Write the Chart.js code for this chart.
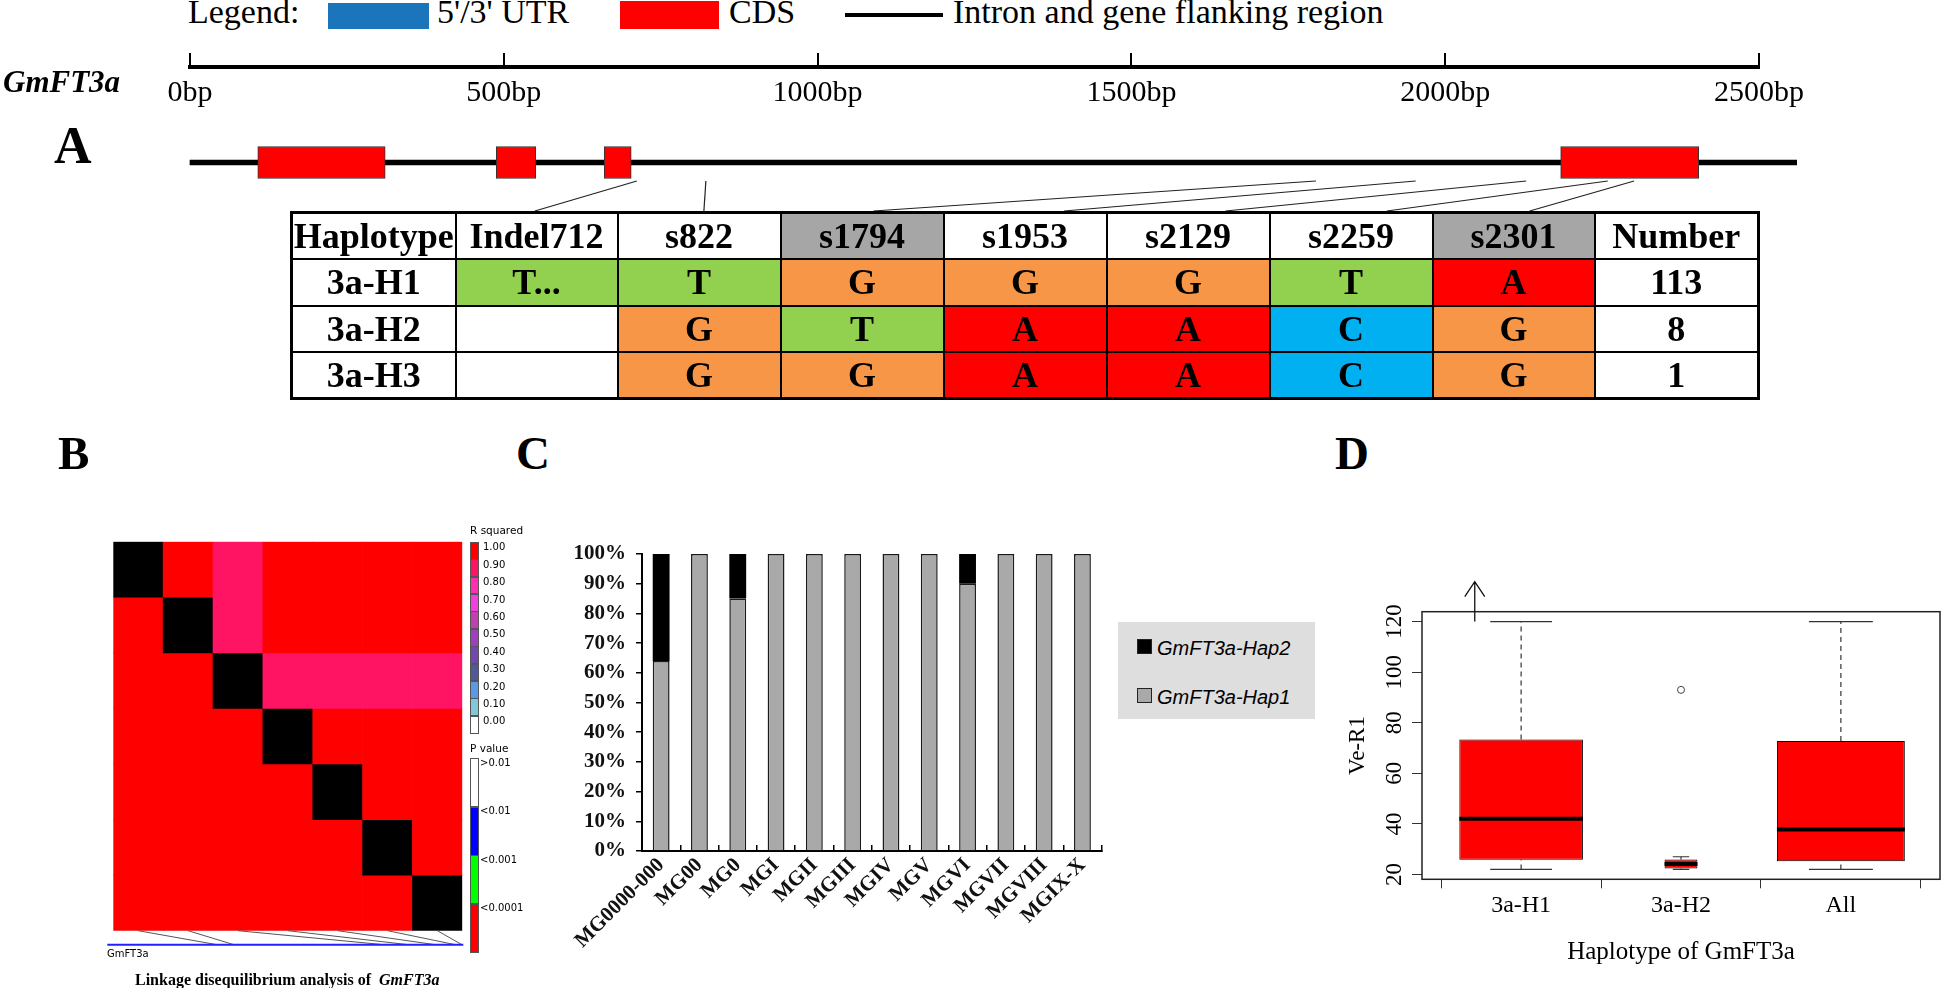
<!DOCTYPE html>
<html>
<head>
<meta charset="utf-8">
<title>GmFT3a haplotypes</title>
<script src="https://cdn.jsdelivr.net/npm/chart.js@4.4.1/dist/chart.umd.min.js"></script>
<style>
  html, body { margin:0; padding:0; background:#fff; }
  #page { position:relative; width:1945px; height:988px; overflow:hidden; background:#fff; color:#000;
          font-family:'Liberation Serif','Times New Roman',serif; }
  .abs { position:absolute; white-space:nowrap; line-height:1; }
  canvas { position:absolute; }
  #hapTable { position:absolute; left:290px; top:211px; width:1467px; border-collapse:collapse; table-layout:fixed;
              font-family:'Liberation Serif',serif; font-weight:bold; font-size:36px; border:3px solid #000; }
  #hapTable td { border:2px solid #000; text-align:center; vertical-align:middle; padding:0; line-height:1;
                 white-space:nowrap; overflow:hidden; }
</style>
</head>
<body>
<div id="page">
  <canvas id="cRuler" width="1945" height="80" style="left:0;top:40px"></canvas>
  <canvas id="cGene" width="1945" height="100" style="left:0;top:120px"></canvas>
  <canvas id="cLD" width="420" height="450" style="left:60px;top:520px"></canvas>
  <canvas id="cMG" width="620" height="440" style="left:500px;top:530px"></canvas>
  <canvas id="cBox" width="625" height="428" style="left:1320px;top:560px"></canvas>
</div>
<script>
// ================= DATA =================
// Panel A: gene structure (bp) and haplotype table
const legendLabels = ["5'/3' UTR", 'CDS', 'Intron and gene flanking region'];
const rulerTicks = [0, 500, 1000, 1500, 2000, 2500];
const geneSpan = [0, 2560];
const exonStart = [108, 488, 660, 2184];
const exonEnd = [311, 551, 703, 2404];
const variantNames = ['Indel712', 's822', 's1794', 's1953', 's2129', 's2259', 's2301'];
const variantPos = [712, 822, 1794, 1953, 2129, 2259, 2301];
const codingVariants = ['s1794', 's2301'];
const haplotypeNames = ['3a-H1', '3a-H2', '3a-H3'];
const allelesH1 = ['T...', 'T', 'G', 'G', 'G', 'T', 'A'];
const allelesH2 = ['', 'G', 'T', 'A', 'A', 'C', 'G'];
const allelesH3 = ['', 'G', 'G', 'A', 'A', 'C', 'G'];
const haplotypeCounts = [113, 8, 1];

// Panel B: LD matrix (upper triangle R squared, lower triangle P value)
const ldR2 = [
  [null, 1.00, 0.88, 1.00, 1.00, 1.00, 1.00],
  [null, null, 0.88, 1.00, 1.00, 1.00, 1.00],
  [null, null, null, 0.88, 0.88, 0.88, 0.88],
  [null, null, null, null, 1.00, 1.00, 1.00],
  [null, null, null, null, null, 1.00, 1.00],
  [null, null, null, null, null, null, 1.00],
  [null, null, null, null, null, null, null]
];
const ldP = [
  [null, null, null, null, null, null, null],
  [0.00005, null, null, null, null, null, null],
  [0.00005, 0.00005, null, null, null, null, null],
  [0.00005, 0.00005, 0.00005, null, null, null, null],
  [0.00005, 0.00005, 0.00005, 0.00005, null, null, null],
  [0.00005, 0.00005, 0.00005, 0.00005, 0.00005, null, null],
  [0.00005, 0.00005, 0.00005, 0.00005, 0.00005, 0.00005, null]
];
const r2LegendLabels = ['1.00', '0.90', '0.80', '0.70', '0.60', '0.50', '0.40', '0.30', '0.20', '0.10', '0.00'];
const pLegendLabels = ['>0.01', '<0.01', '<0.001', '<0.0001'];

// Panel C: haplotype share per maturity group (%)
const maturityGroups = ['MG0000-000', 'MG00', 'MG0', 'MGI', 'MGII', 'MGIII', 'MGIV', 'MGV', 'MGVI', 'MGVII', 'MGVIII', 'MGIX-X'];
const hap1Percent = [64, 100, 85, 100, 100, 100, 100, 100, 90, 100, 100, 100];
const hap2Percent = [36, 0, 15, 0, 0, 0, 0, 0, 10, 0, 0, 0];
const percentTicks = [0, 10, 20, 30, 40, 50, 60, 70, 80, 90, 100];

// Panel D: Ve-R1 box plot
const boxGroups = ['3a-H1', '3a-H2', 'All'];
const boxN = [113, 8, 121];
const boxLowerWhisker = [22, 22, 22];
const boxQ1 = [25.8, 22.4, 25.2];
const boxMedian = [42.0, 24.1, 37.8];
const boxQ3 = [73.4, 25.9, 72.8];
const boxUpperWhisker = [120, 27, 120];
const boxOutliers = [[], [93], []];
const veTicks = [20, 40, 60, 80, 100, 120];

// ================= STYLE / LAYOUT =================
const SERIF = "'Liberation Serif', 'Times New Roman', serif";
const SANS = "'DejaVu Sans', Verdana, sans-serif";
const alleleColor = { A: '#ff0000', T: '#92d050', G: '#f79646', C: '#00b0f0' };
const r2Colors = ['#ffffff', '#80c8d8', '#5a98e8', '#505a98', '#7048b0', '#a040c0', '#c040b0', '#f040e0', '#ff30b0', '#ff1464', '#ff0000'];
const pColors = { ns: '#ffffff', p01: '#0000ff', p001: '#00ff00', p0001: '#ff0000' };
const connectorTargetFrac = [0.49, 0.53, 0.57, 0.74, 0.73, 0.72, 0.60];
const RULER_LEFT = 190, RULER_RIGHT = 1759;
const LD_MAP_END_BP = 2310;

Chart.defaults.font.family = SERIF;
Chart.defaults.color = '#000';

const page = document.getElementById('page');
function addText(txt, x, baseline, size, opts) {
  opts = opts || {};
  const d = document.createElement('div');
  d.className = 'abs';
  d.style.left = x + 'px';
  d.style.top = (baseline - 0.84 * size) + 'px';
  d.style.fontSize = size + 'px';
  d.style.fontFamily = opts.family || SERIF;
  if (opts.weight) d.style.fontWeight = opts.weight;
  if (opts.italic) d.style.fontStyle = 'italic';
  if (opts.html) d.innerHTML = txt; else d.textContent = txt;
  page.appendChild(d);
  return d;
}
function addBox(x, y, w, h, bg, border) {
  const d = document.createElement('div');
  d.style.position = 'absolute';
  d.style.left = x + 'px'; d.style.top = y + 'px';
  d.style.width = w + 'px'; d.style.height = h + 'px';
  d.style.background = bg;
  d.style.boxSizing = 'border-box';
  if (border) d.style.border = border;
  page.appendChild(d);
  return d;
}

// ---------- Panel A legend ----------
addText('Legend:', 188, 24, 34);
addBox(328, 3, 101, 26, '#1b75bb');
addText(legendLabels[0], 437, 24, 34);
addBox(620, 1, 99, 28, '#ff0000');
addText(legendLabels[1], 729, 24, 34);
addBox(845, 13, 98, 4, '#000');
addText(legendLabels[2], 953, 24, 34);

addText('GmFT3a', 3, 92, 31, { weight: 'bold', italic: true });
addText('A', 54, 164, 52, { weight: 'bold' });
addText('B', 58, 469, 47, { weight: 'bold' });
addText('C', 516, 469, 47, { weight: 'bold' });
addText('D', 1335, 469, 47, { weight: 'bold' });

// ---------- Haplotype table ----------
(function buildTable() {
  const colW = [164, 162, 163, 163, 163, 163, 163, 162, 164];
  const rowH = [46, 47, 46, 47];
  const table = document.createElement('table');
  table.id = 'hapTable';
  const cg = document.createElement('colgroup');
  colW.forEach(w => { const c = document.createElement('col'); c.style.width = w + 'px'; cg.appendChild(c); });
  table.appendChild(cg);
  const header = ['Haplotype'].concat(variantNames, ['Number']);
  const alleleRows = [allelesH1, allelesH2, allelesH3];
  const rows = [header].concat(haplotypeNames.map((h, i) => [h].concat(alleleRows[i], [String(haplotypeCounts[i])])));
  rows.forEach((r, ri) => {
    const tr = document.createElement('tr');
    tr.style.height = rowH[ri] + 'px';
    r.forEach((txt, ci) => {
      const td = document.createElement('td');
      td.textContent = txt;
      let bg = '#ffffff';
      if (ri === 0) {
        if (codingVariants.includes(txt)) bg = '#a6a6a6';
      } else if (ci >= 1 && ci <= variantNames.length && txt) {
        bg = alleleColor[txt.charAt(0)] || '#ffffff';
      }
      td.style.background = bg;
      tr.appendChild(td);
    });
    table.appendChild(tr);
  });
  page.appendChild(table);
})();

// ---------- Panel A ruler ----------
new Chart(document.getElementById('cRuler'), {
  type: 'line',
  data: { datasets: [] },
  options: {
    responsive: false, animation: false, events: [],
    layout: { padding: { left: RULER_LEFT, right: 1945 - RULER_RIGHT, top: 13, bottom: 0 } },
    plugins: { legend: { display: false }, tooltip: { enabled: false } },
    scales: {
      x: {
        type: 'linear', min: rulerTicks[0], max: rulerTicks[rulerTicks.length - 1], position: 'bottom', offset: false,
        afterBuildTicks: s => { s.ticks = rulerTicks.map(v => ({ value: v })); },
        afterFit: s => { s.height = 53; },
        ticks: { callback: v => v + 'bp', font: { family: SERIF, size: 30 }, color: '#000', padding: 8, maxRotation: 0, autoSkip: false },
        grid: { drawOnChartArea: true, drawTicks: false, color: '#000', lineWidth: 2 },
        border: { display: true, color: '#000', width: 4 }
      },
      y: { display: false, min: 0, max: 1 }
    }
  }
});

// ---------- Panel A gene model ----------
const connectorPlugin = {
  id: 'connectors',
  afterDraw(chart) {
    const { ctx, scales: { x, y } } = chart;
    const cells = document.querySelectorAll('#hapTable tr:first-of-type td');
    const tRect = document.getElementById('hapTable').getBoundingClientRect();
    const cRect = chart.canvas.getBoundingClientRect();
    const y0 = y.getPixelForValue(0) + 18.5;
    ctx.save();
    ctx.strokeStyle = '#222';
    ctx.lineWidth = 1.2;
    variantPos.forEach((bp, i) => {
      const cell = cells[i + 1].getBoundingClientRect();
      const tx = cell.left - cRect.left + cell.width * connectorTargetFrac[i];
      const ty = tRect.top - cRect.top;
      ctx.beginPath();
      ctx.moveTo(x.getPixelForValue(bp), y0);
      ctx.lineTo(tx, ty);
      ctx.stroke();
    });
    ctx.restore();
  }
};
new Chart(document.getElementById('cGene'), {
  type: 'bar',
  data: {
    datasets: [
      { label: legendLabels[1], data: exonStart.map((s, i) => ({ x: [s, exonEnd[i]], y: 0 })),
        backgroundColor: '#ff0000', borderColor: '#333', borderWidth: 1, borderSkipped: false,
        barThickness: 32, grouped: false, order: 1 },
      { label: legendLabels[2], data: [{ x: geneSpan, y: 0 }],
        backgroundColor: '#000', borderWidth: 0, barThickness: 5, grouped: false, order: 2, clip: false }
    ]
  },
  options: {
    indexAxis: 'y', responsive: false, animation: false, events: [],
    layout: { padding: { left: RULER_LEFT, right: 1945 - RULER_RIGHT, top: 0, bottom: 15 } },
    plugins: { legend: { display: false }, tooltip: { enabled: false } },
    scales: {
      x: { type: 'linear', min: rulerTicks[0], max: rulerTicks[rulerTicks.length - 1], display: false, offset: false },
      y: { type: 'linear', min: -1, max: 1, display: false, offset: false }
    }
  },
  plugins: [connectorPlugin]
});

// ---------- Panel B LD heatmap ----------
function r2Color(v) { return r2Colors[Math.round(v * 10)]; }
function pColor(p) {
  if (p < 0.0001) return pColors.p0001;
  if (p < 0.001) return pColors.p001;
  if (p < 0.01) return pColors.p01;
  return pColors.ns;
}
function cellColor(r, c) {
  if (r === c) return '#000000';
  if (c > r) return r2Color(ldR2[r][c]);
  return pColor(ldP[r][c]);
}
const ldMapPlugin = {
  id: 'ldMap',
  afterDraw(chart) {
    const { ctx, chartArea: a, scales: { x } } = chart;
    const baseY = a.bottom + 14;
    const left = a.left - 6, right = a.right + 1;
    ctx.save();
    ctx.strokeStyle = '#555';
    ctx.lineWidth = 1;
    variantPos.forEach((bp, i) => {
      ctx.beginPath();
      ctx.moveTo(x.getPixelForValue(i), a.bottom);
      ctx.lineTo(left + (right - left) * bp / LD_MAP_END_BP, baseY);
      ctx.stroke();
    });
    ctx.strokeStyle = '#2020ff';
    ctx.lineWidth = 2;
    ctx.beginPath(); ctx.moveTo(left, baseY); ctx.lineTo(right, baseY); ctx.stroke();
    ctx.restore();
  }
};
new Chart(document.getElementById('cLD'), {
  type: 'bar',
  data: {
    labels: variantNames,
    datasets: variantNames.map((name, r) => ({
      label: name,
      data: variantNames.map(() => [r, r + 1]),
      backgroundColor: ctx => cellColor(r, ctx.dataIndex),
      borderWidth: 0, barPercentage: 1, categoryPercentage: 1, grouped: false
    }))
  },
  options: {
    responsive: false, animation: false, events: [],
    layout: { padding: { left: 53.3, right: 17.7, top: 21.7, bottom: 39.3 } },
    plugins: { legend: { display: false }, tooltip: { enabled: false } },
    scales: {
      x: { type: 'category', display: false, offset: true },
      y: { type: 'linear', min: 0, max: variantNames.length, reverse: true, display: false }
    }
  },
  plugins: [ldMapPlugin]
});
// heatmap colour keys
addText('R squared', 470, 534, 10.5, { family: SANS });
r2LegendLabels.forEach((lab, i) => {
  const top = 541.7 + i * 17.4;
  addBox(470, top, 9, 17.9, r2Colors[Math.round(parseFloat(lab) * 10)], '1px solid #555');
  addText(lab, 483, top + 9, 10, { family: SANS });
});
addText('P value', 470, 752, 10.5, { family: SANS });
const pKeyColors = [pColors.ns, pColors.p01, pColors.p001, pColors.p0001];
pLegendLabels.forEach((lab, i) => {
  const top = 758 + i * 48.5;
  addBox(470, top, 9, 49, pKeyColors[i], '1px solid #555');
  addText(lab, 480, top + 8, 10, { family: SANS });
});
addText('GmFT3a', 107, 957, 10, { family: SANS });
addText('Linkage disequilibrium analysis of &nbsp;<i>GmFT3a</i>', 135, 985, 16, { weight: 'bold', html: true });

// ---------- Panel C stacked bars ----------
const mgChart = new Chart(document.getElementById('cMG'), {
  type: 'bar',
  data: {
    labels: maturityGroups,
    datasets: [
      { label: 'GmFT3a-Hap1', data: hap1Percent, backgroundColor: '#a9a9a9', borderColor: '#1a1a1a',
        borderWidth: 1.5, borderSkipped: 'bottom', barPercentage: 0.44, categoryPercentage: 1 },
      { label: 'GmFT3a-Hap2', data: hap2Percent, backgroundColor: '#000', borderColor: '#000',
        borderWidth: 0, barPercentage: 0.44, categoryPercentage: 1 }
    ]
  },
  options: {
    responsive: false, animation: false, events: [],
    layout: { padding: { left: 0, right: 18.4, top: 24, bottom: 0 } },
    plugins: { legend: { display: false }, tooltip: { enabled: false } },
    scales: {
      x: {
        stacked: true, offset: true,
        afterFit: s => { s.height = 119; },
        ticks: { font: { family: SERIF, size: 21, weight: 'bold' }, color: '#111', minRotation: 45, maxRotation: 45, autoSkip: false, padding: 8 },
        grid: { offset: true, drawOnChartArea: false, drawTicks: true, tickLength: -6, color: '#000', lineWidth: 1.5 },
        border: { display: true, color: '#000', width: 2 }
      },
      y: {
        stacked: true, min: 0, max: 100,
        afterFit: s => { s.width = 142; },
        afterBuildTicks: s => { s.ticks = percentTicks.map(v => ({ value: v })); },
        ticks: { callback: v => v + '%', font: { family: SERIF, size: 21, weight: 'bold' }, color: '#111', padding: 10 },
        grid: { drawOnChartArea: false, drawTicks: true, tickLength: 6, color: '#000', lineWidth: 1.5 },
        border: { display: true, color: '#000', width: 2 }
      }
    }
  }
});
// legend box for panel C (reverse dataset order, as in the figure)
(function () {
  addBox(1118, 622, 197, 97, '#dedede');
  const ds = mgChart.data.datasets.slice().reverse();
  ds.forEach((d, i) => {
    const y = 639 + i * 49;
    addBox(1137, y, 15, 15, d.backgroundColor, '1.5px solid #222');
    addText(d.label, 1157, y + 16, 20, { family: "'Liberation Sans', Arial, sans-serif", italic: true });
  });
})();

// ---------- Panel D box plot ----------
const nMax = Math.max(...boxN);
const boxWidth = boxN.map(n => 0.8 * Math.sqrt(n / nMax));
function segs(fn) {
  const out = [];
  boxGroups.forEach((g, i) => { fn(i).forEach(seg => { out.push(seg[0], seg[1], { x: i + 1, y: null }); }); });
  return out;
}
const frameArrowPlugin = {
  id: 'frameArrow',
  afterDraw(chart) {
    const { ctx, chartArea: a, scales: { x, y } } = chart;
    ctx.save();
    ctx.strokeStyle = '#222';
    ctx.lineWidth = 1.5;
    ctx.strokeRect(a.left, a.top, a.right - a.left, a.bottom - a.top);
    // annotation arrow above the first group
    const ax = x.getPixelForValue(0.71), ay = y.getPixelForValue(boxUpperWhisker[0]);
    ctx.lineWidth = 1.3;
    ctx.strokeStyle = '#111';
    ctx.beginPath();
    ctx.moveTo(ax, ay); ctx.lineTo(ax, ay - 40);
    ctx.moveTo(ax - 10, ay - 25); ctx.lineTo(ax, ay - 40); ctx.lineTo(ax + 10, ay - 25);
    ctx.stroke();
    ctx.restore();
  }
};
const boxDatasets = boxGroups.map((g, i) => ({
  type: 'bar', label: g,
  data: [{ x: i + 1, y: [boxQ1[i], boxQ3[i]] }],
  backgroundColor: '#ff0000', borderColor: '#000', borderWidth: 1, borderSkipped: false,
  grouped: false, barPercentage: boxWidth[i], categoryPercentage: 1, order: 2
}));
new Chart(document.getElementById('cBox'), {
  type: 'bar',
  data: {
    datasets: boxDatasets.concat([
      { type: 'line', label: 'whiskers', order: 3, borderColor: '#333', borderWidth: 1.2, borderDash: [5, 4],
        pointRadius: 0, spanGaps: false, fill: false,
        data: segs(i => [[{ x: i + 1, y: boxQ3[i] }, { x: i + 1, y: boxUpperWhisker[i] }],
                         [{ x: i + 1, y: boxLowerWhisker[i] }, { x: i + 1, y: boxQ1[i] }]]) },
      { type: 'line', label: 'staples', order: 3, borderColor: '#333', borderWidth: 1.2,
        pointRadius: 0, spanGaps: false, fill: false,
        data: segs(i => [[{ x: i + 1 - boxWidth[i] / 4, y: boxUpperWhisker[i] }, { x: i + 1 + boxWidth[i] / 4, y: boxUpperWhisker[i] }],
                         [{ x: i + 1 - boxWidth[i] / 4, y: boxLowerWhisker[i] }, { x: i + 1 + boxWidth[i] / 4, y: boxLowerWhisker[i] }]]) },
      { type: 'line', label: 'medians', order: 0, borderColor: '#000', borderWidth: 4, borderCapStyle: 'butt',
        pointRadius: 0, spanGaps: false, fill: false,
        data: segs(i => [[{ x: i + 1 - boxWidth[i] / 2, y: boxMedian[i] }, { x: i + 1 + boxWidth[i] / 2, y: boxMedian[i] }]]) },
      { type: 'line', label: 'outliers', order: 0, showLine: false, pointRadius: 3.5, pointStyle: 'circle',
        pointBorderColor: '#444', pointBackgroundColor: 'rgba(0,0,0,0)', pointBorderWidth: 1,
        data: boxOutliers.flatMap((arr, i) => arr.map(v => ({ x: i + 1, y: v }))) }
    ])
  },
  options: {
    responsive: false, animation: false, events: [],
    layout: { padding: { left: 0, right: 1, top: 51.7, bottom: 0 } },
    plugins: { legend: { display: false }, tooltip: { enabled: false } },
    scales: {
      x: {
        type: 'linear', min: 0.38, max: boxGroups.length + 0.62, offset: false,
        afterBuildTicks: s => { s.ticks = boxGroups.map((g, i) => ({ value: i + 1 })); },
        afterFit: s => { s.height = 108.7; },
        ticks: { callback: v => boxGroups[v - 1], font: { family: SERIF, size: 24 }, color: '#000', padding: 3, maxRotation: 0, autoSkip: false },
        grid: { drawOnChartArea: false, drawTicks: true, tickLength: 9, color: '#333', lineWidth: 1 },
        border: { display: false },
        title: { display: true, text: 'Haplotype of GmFT3a', font: { family: SERIF, size: 25 }, color: '#000', padding: { top: 0, bottom: 21 } }
      },
      y: {
        type: 'linear', min: 18.08, max: 123.92,
        afterBuildTicks: s => { s.ticks = veTicks.map(v => ({ value: v })); },
        afterFit: s => { s.width = 102; },
        ticks: { font: { family: SERIF, size: 23 }, color: '#000', minRotation: 90, maxRotation: 90, crossAlign: 'center', padding: 0 },
        grid: { drawOnChartArea: false, drawTicks: true, tickLength: 10, color: '#333', lineWidth: 1 },
        border: { display: false },
        title: { display: true, text: 'Ve-R1', font: { family: SERIF, size: 23 }, color: '#000', padding: { top: 24, bottom: 0 } }
      }
    }
  },
  plugins: [frameArrowPlugin]
});
</script>
</body>
</html>
